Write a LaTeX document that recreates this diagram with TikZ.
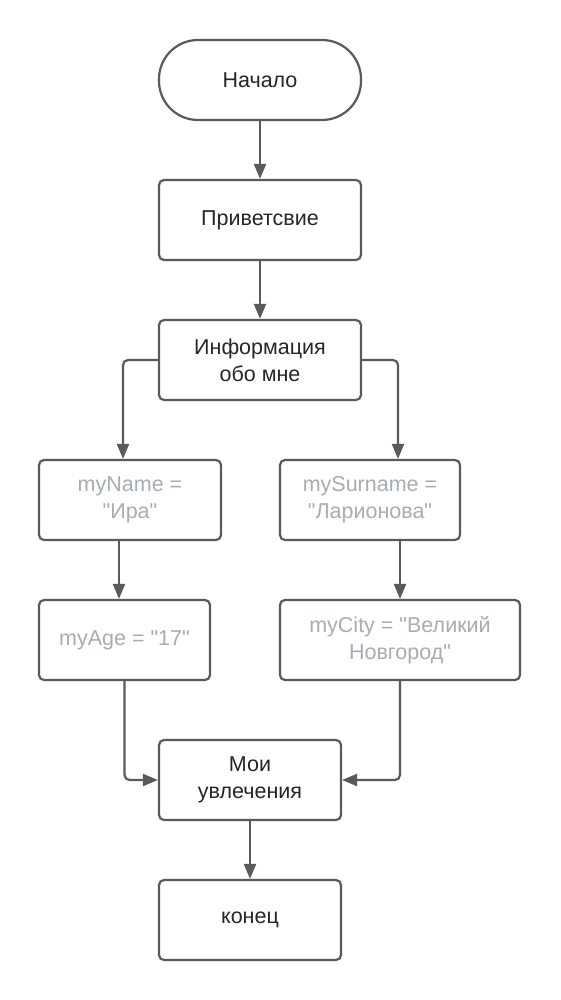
\documentclass[tikz,border=0pt]{standalone}
\usepackage{fontspec}
\setmainfont{Liberation Sans}
\usetikzlibrary{arrows.meta}
\definecolor{edge}{HTML}{5A5A5A}
\definecolor{ink}{HTML}{262626}
\definecolor{pale}{HTML}{A6ADB4}
\newcommand{\q}{\textquotedbl}

\begin{document}
\begin{tikzpicture}[x=1pt, y=-1pt,
  box/.style={draw=edge, line width=2.2pt, rounded corners=5pt, fill=white,
    minimum height=80pt, align=center, text=ink,
    font=\fontsize{21.5}{27}\selectfont, inner sep=0pt},
  var/.style={box, text=pale},
  term/.style={box, rounded corners=39pt},
  arr/.style={draw=edge, line width=2.2pt, rounded corners=5pt,
    -{Triangle[length=15pt, width=12pt]}}]
  \useasboundingbox[fill=white] (0,0) rectangle (560,1000);
  \node[term, minimum width=202pt] (start) at (260,80) {Начало};
  \node[box, minimum width=202pt] (hello) at (260,220) {Приветсвие};
  \node[box, minimum width=202pt] (info) at (260,360) {Информация\\обо мне};
  % переменные
  \node[var, minimum width=182pt] (name) at (130,500) {myName =\\\q Ира\q};
  \node[var, minimum width=180pt] (surname) at (370,500) {mySurname =\\\q Ларионова\q};
  \node[var, minimum width=171pt] (age) at (124.5,640) {myAge = \q 17\q};
  \node[var, minimum width=240pt] (city) at (400,640) {myCity = \q Великий\\Новгород\q};
  \node[box, minimum width=182pt] (hobby) at (250,780) {Мои\\увлечения};
  \node[box, minimum width=182pt] (finish) at (250,920) {конец};
  \draw[arr] (start) -- (hello);
  \draw[arr] (hello) -- (info);
  \draw[arr] (info.west) -| ([xshift=-7pt]name.north);
  \draw[arr] (info.east) -| ([xshift=28pt]surname.north);
  \draw[arr] ([xshift=-11pt]name.south) -- ([xshift=-11pt]name.south |- age.north);
  \draw[arr] ([xshift=30pt]surname.south) -- (city.north);
  \draw[arr] (age.south) |- (hobby.west);
  \draw[arr] (city.south) |- (hobby.east);
  \draw[arr] (hobby) -- (finish);
\end{tikzpicture}
\end{document}
